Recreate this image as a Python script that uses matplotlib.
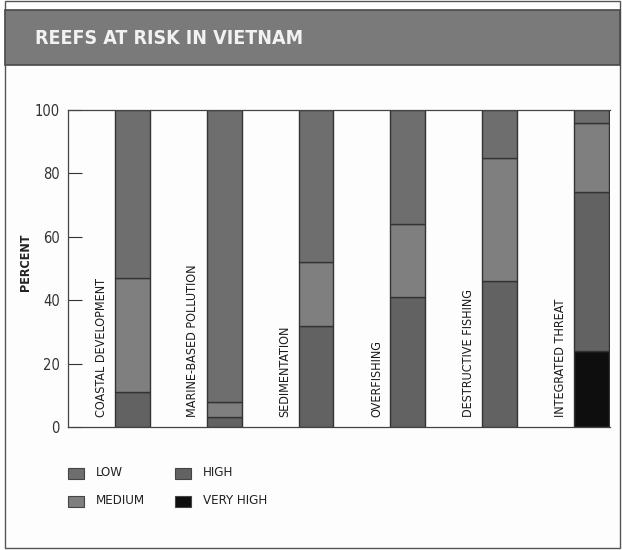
import numpy as np
import matplotlib.pyplot as plt
from matplotlib.patches import Rectangle

plt.rcParams['font.family'] = ['DejaVu Sans']
plt.rcParams['font.stretch'] = 'condensed'

# datos (porcentaje de arrecifes por nivel de amenaza)
categories = ['COASTAL DEVELOPMENT', 'MARINE-BASED POLLUTION', 'SEDIMENTATION',
              'OVERFISHING', 'DESTRUCTIVE FISHING', 'INTEGRATED THREAT']
very_high = [0, 0, 0, 0, 0, 24]
high = [11, 3, 32, 41, 46, 50]
medium = [36, 5, 20, 23, 39, 22]
low = [53, 92, 48, 36, 15, 4]
yticks = [0, 20, 40, 60, 80, 100]

colors = {'LOW': '#6e6e6e', 'MEDIUM': '#7f7f7f', 'HIGH': '#626262', 'VERY HIGH': '#0e0e0e'}

fig = plt.figure(figsize=(6.22, 5.5), dpi=100)
W, H = 622, 550

# marco exterior y banda del título
fig.patches.append(Rectangle((5 / W, 2 / H), 615 / W, 547 / H, transform=fig.transFigure,
                             facecolor='#fdfdfd', edgecolor='#555555', lw=1.0, zorder=-2))
fig.patches.append(Rectangle((5 / W, 485 / H), 615 / W, 55 / H, transform=fig.transFigure,
                             facecolor='#7a7a7a', edgecolor='#4a4a4a', lw=1.2, zorder=-1))
fig.text(35 / W, 512 / H, 'REEFS AT RISK IN VIETNAM', color='#f2f2f2', fontsize=14,
         fontweight='bold', va='center', ha='left')

ax = fig.add_axes([68 / W, 123 / H, 542 / W, 317 / H], zorder=2)
ax.set_facecolor('none')
x = np.arange(len(categories))
w = 0.38
bottom = np.zeros(len(categories))
for name, vals in [('VERY HIGH', very_high), ('HIGH', high), ('MEDIUM', medium), ('LOW', low)]:
    vals = np.array(vals, dtype=float)
    ax.bar(x, vals, w, bottom=bottom, color=colors[name], edgecolor='#333333', linewidth=1.0)
    bottom += vals

for i, cat in enumerate(categories):
    ax.text(i - 0.34, 3, cat, rotation=90, ha='center', va='bottom', fontsize=9, color='#1a1a1a')

ax.set_xlim(-0.70, 5.20)
ax.set_ylim(0, 100)
ax.set_xticks([])
ax.set_yticks(yticks)
ax.tick_params(axis='y', direction='in', length=10, width=0.8, labelsize=10.5, colors='#333333', pad=6)
for s in ['left', 'bottom', 'top']:
    ax.spines[s].set_color('#444444')
    ax.spines[s].set_linewidth(0.9)
ax.spines['right'].set_visible(False)
fig.text(25 / W, (H - 262) / H, 'PERCENT', rotation=90, fontsize=9, fontweight='bold',
         color='#222222', ha='center', va='center')

# leyenda manual
legend_items = [('LOW', 68, 473), ('MEDIUM', 68, 501), ('HIGH', 175, 473), ('VERY HIGH', 175, 501)]
for name, px, py in legend_items:
    fig.patches.append(Rectangle((px / W, (H - py - 6) / H), 16 / W, 11 / H, transform=fig.transFigure,
                                 facecolor=colors[name], edgecolor='#444444', lw=0.8))
    fig.text((px + 28) / W, (H - py) / H, name, fontsize=9.5, va='center', ha='left', color='#222222')

plt.savefig('out.png', dpi=100)
